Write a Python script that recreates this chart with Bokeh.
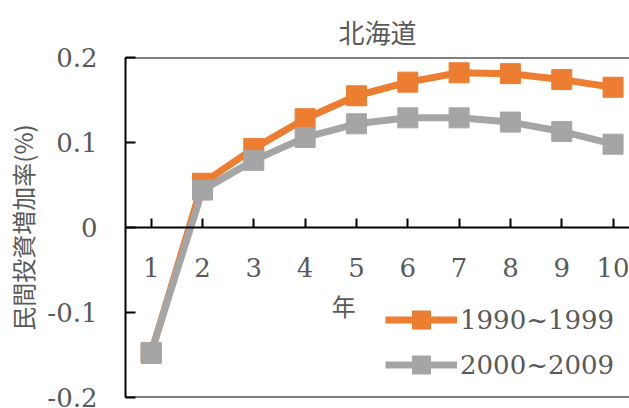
from bokeh.plotting import figure
from bokeh.models import (Span, Label, Legend, LegendItem, FixedTicker, Range1d,
                          CustomJSTickFormatter)
from bokeh.embed import file_html
from bokeh.resources import INLINE

# ---- data ----
title_text = "北海道"
x_label = "年"
y_label = "民間投資増加率(%)"
years = [1, 2, 3, 4, 5, 6, 7, 8, 9, 10]
s1990 = [-0.148, 0.052, 0.093, 0.128, 0.155, 0.171, 0.182, 0.181, 0.174, 0.165]
s2000 = [-0.147, 0.044, 0.079, 0.106, 0.122, 0.129, 0.129, 0.124, 0.113, 0.098]
series_names = ["1990~1999", "2000~2009"]
y_ticks = [-0.2, -0.1, 0, 0.1, 0.2]

ORANGE = "#ED7D31"
GREY = "#A5A5A5"
TEXT = "#595959"
NUM_FONT = "DejaVu Serif"
CJK_FONT = "Noto Sans CJK JP"

p = figure(width=629, height=408, output_backend="svg", toolbar_location=None,
           x_range=Range1d(0.5, 10.32), y_range=Range1d(-0.2, 0.2),
           min_border_left=125, min_border_right=0, min_border_top=57,
           min_border_bottom=11)
p.outline_line_color = None
p.background_fill_color = "white"
p.border_fill_color = "white"
p.xgrid.visible = False
p.ygrid.visible = False

# title
p.title.text = title_text
p.title.align = "center"
p.title.text_font = CJK_FONT
p.title.text_font_size = "26px"
p.title.text_font_style = "normal"
p.title.text_color = TEXT
p.title.standoff = 16

# x axis at y = 0
xa = p.xaxis[0]
xa.fixed_location = 0
xa.ticker = FixedTicker(ticks=years)
xa.major_tick_in = 9
xa.major_tick_out = 0
xa.minor_tick_line_color = None
xa.axis_line_width = 2
xa.axis_line_color = "black"
xa.major_tick_line_width = 2
xa.major_tick_line_color = "black"
xa.major_label_standoff = 30
xa.major_label_text_font = NUM_FONT
xa.major_label_text_font_size = "26px"
xa.major_label_text_color = TEXT

# y axis
ya = p.yaxis[0]
ya.ticker = FixedTicker(ticks=y_ticks)
ya.formatter = CustomJSTickFormatter(code="return tick == 0 ? '0' : tick.toFixed(1);")
ya.major_tick_in = 10
ya.major_tick_out = 0
ya.minor_tick_line_color = None
ya.axis_line_width = 2
ya.axis_line_color = "black"
ya.major_tick_line_width = 2
ya.major_tick_line_color = "black"
ya.major_label_standoff = 28
ya.major_label_text_font = NUM_FONT
ya.major_label_text_font_size = "26px"
ya.major_label_text_color = TEXT
ya.axis_label = y_label
ya.axis_label_text_font = CJK_FONT
ya.axis_label_text_font_size = "24px"
ya.axis_label_text_font_style = "normal"
ya.axis_label_text_color = TEXT
ya.axis_label_standoff = 4

# frame top / bottom borders
p.add_layout(Span(location=0.2, dimension="width", line_color="black", line_width=2))
p.add_layout(Span(location=-0.2, dimension="width", line_color="black", line_width=2))

# series
l1 = p.line(years, s1990, line_color=ORANGE, line_width=7)
m1 = p.scatter(years, s1990, marker="square", size=20, fill_color=ORANGE, line_color=ORANGE)
l2 = p.line(years, s2000, line_color=GREY, line_width=7)
m2 = p.scatter(years, s2000, marker="square", size=20, fill_color=GREY, line_color=GREY)

# x label
p.add_layout(Label(x=4.75, y=-0.092, text=x_label, text_font=CJK_FONT,
                   text_font_size="24px", text_color=TEXT,
                   text_align="center", text_baseline="middle"))

legend = Legend(items=[LegendItem(label=series_names[0], renderers=[l1, m1]),
                       LegendItem(label=series_names[1], renderers=[l2, m2])],
                location=(260, 10), glyph_width=72, glyph_height=45,
                spacing=0, padding=0, margin=0, label_standoff=3,
                label_text_font=NUM_FONT, label_text_font_size="26px",
                label_text_color=TEXT, border_line_color=None,
                background_fill_alpha=0)
p.add_layout(legend)

open("out.html", "w").write(file_html(p, INLINE))
